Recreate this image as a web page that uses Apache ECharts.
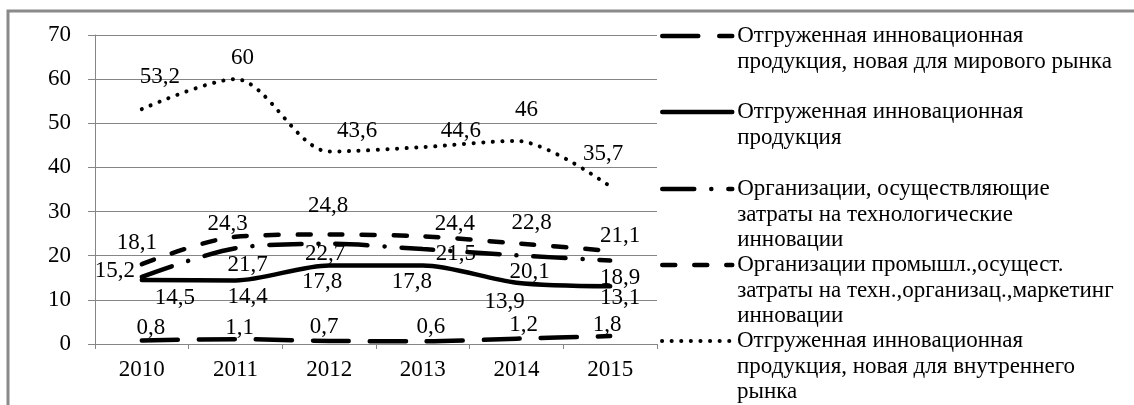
<!DOCTYPE html>
<html>
<head>
<meta charset="utf-8">
<script src="https://cdn.jsdelivr.net/npm/echarts@6/dist/echarts.min.js"></script>
<style>
html,body{margin:0;padding:0;background:#fff;}
#chart{width:1134px;height:405px;}
</style>
</head>
<body>
<div id="chart"></div>
<script>
// ---- data ----
const years = ['2010', '2011', '2012', '2013', '2014', '2015'];
const worldMarket = [0.8, 1.1, 0.7, 0.6, 1.2, 1.8];
const innovProducts = [14.5, 14.4, 17.8, 17.8, 13.9, 13.1];
const orgTechCosts = [15.2, 21.7, 22.7, 21.5, 20.1, 18.9];
const orgIndustrial = [18.1, 24.3, 24.8, 24.4, 22.8, 21.1];
const domesticMarket = [53.2, 60, 43.6, 44.6, 46, 35.7];
const yMin = 0, yMax = 70, yStep = 10;

const seriesNames = [
  'Отгруженная инновационная продукция, новая для мирового рынка',
  'Отгруженная инновационная продукция',
  'Организации, осуществляющие затраты на технологические инновации',
  'Организации промышл.,осущест. затраты на техн.,организац.,маркетинг инновации',
  'Отгруженная инновационная продукция, новая для внутреннего рынка'
];
const legendLines = [
  ['Отгруженная инновационная', 'продукция, новая для мирового рынка'],
  ['Отгруженная инновационная', 'продукция'],
  ['Организации, осуществляющие', 'затраты на технологические', 'инновации'],
  ['Организации промышл.,осущест.', 'затраты на техн.,организац.,маркетинг', 'инновации'],
  ['Отгруженная инновационная', 'продукция, новая для внутреннего', 'рынка']
];
const seriesValues = [worldMarket, innovProducts, orgTechCosts, orgIndustrial, domesticMarket];

// ---- styling ----
const FONT = 'Liberation Serif';
const FS = 23;
const LH = 25.5;
const lineStyles = [
  { width: 4.5, type: [36, 21], cap: 'round' },
  { width: 4.5, type: 'solid', cap: 'round' },
  { width: 4.5, type: [32, 17, 0.1, 17], cap: 'round' },
  { width: 4.5, type: [13, 19], cap: 'round' },
  { width: 4, type: [0.1, 9.5], cap: 'round' }
];
// label offsets (px) relative to each point
const labelOffsets = [
  [[9, -13], [4, -11], [-5, -14], [8, -14], [7, -14], [-3, -11]],
  [[33, 18], [12, 17], [-7, 17], [-11, 17], [-12, 19], [10, 12]],
  [[-27, -6], [12, 17], [-4, 10], [33, 5], [13, 17], [10, 17]],
  [[-5, -21], [-8, -13], [-1, -29], [32, -12], [15, -20], [10, -15]],
  [[18, -32], [7, -21], [28, -21], [38, -16], [10, -31], [-7, -32]]
];
const legendSymbolY = [36, 112, 189, 265, 341];

const fmt = v => String(v).replace('.', ',');

const series = seriesValues.map((vals, si) => ({
  name: seriesNames[si],
  type: 'line',
  smooth: 0.3,
  symbol: 'circle',
  symbolSize: 0.01,
  showSymbol: true,
  z: 10 - si,
  lineStyle: Object.assign({ color: '#000' }, lineStyles[si]),
  itemStyle: { color: '#000', opacity: 0 },
  label: {
    show: true,
    position: 'inside',
    formatter: p => fmt(p.value),
    fontFamily: FONT,
    fontSize: FS,
    color: '#000',
    opacity: 1
  },
  emphasis: { disabled: true },
  data: vals.map((v, i) => ({ value: v, label: { offset: labelOffsets[si][i] } }))
}));

const legends = seriesNames.map((nm, si) => {
  const n = legendLines[si].length;
  return {
    data: [nm],
    orient: 'vertical',
    left: 660,
    top: legendSymbolY[si] - (2 * n - 1) * LH / 2,
    padding: 0,
    itemWidth: 70,
    itemHeight: 10,
    selectedMode: false,
    formatter: () => '\n'.repeat(n - 1) + legendLines[si].join('\n'),
    textStyle: { fontFamily: FONT, fontSize: FS, lineHeight: LH, color: '#000' },
    itemStyle: { opacity: 0 },
    lineStyle: { width: lineStyles[si].width }
  };
});

const chart = echarts.init(document.getElementById('chart'), null, { renderer: 'canvas' });
chart.setOption({
  animation: false,
  backgroundColor: '#fff',
  graphic: [{
    type: 'rect',
    shape: { x: 8, y: 11, width: 1160, height: 440 },
    style: { fill: 'none', stroke: '#8a8a8a', lineWidth: 3 },
    z: 0
  }],
  grid: { left: 95, right: 477, top: 35, bottom: 61, containLabel: false },
  legend: legends,
  xAxis: {
    type: 'category',
    data: years,
    boundaryGap: true,
    axisLine: { lineStyle: { color: '#868686', width: 1 } },
    axisTick: { show: true, length: 5, lineStyle: { color: '#868686' } },
    axisLabel: { fontFamily: FONT, fontSize: FS, color: '#000', margin: 14 }
  },
  yAxis: {
    type: 'value',
    min: yMin, max: yMax, interval: yStep,
    axisLine: { show: true, lineStyle: { color: '#868686', width: 1 } },
    axisTick: { show: true, length: 7, lineStyle: { color: '#868686' } },
    splitLine: { show: true, lineStyle: { color: '#868686', width: 1 } },
    axisLabel: { fontFamily: FONT, fontSize: FS, color: '#000', margin: 24 }
  },
  series: series
});
</script>
</body>
</html>
